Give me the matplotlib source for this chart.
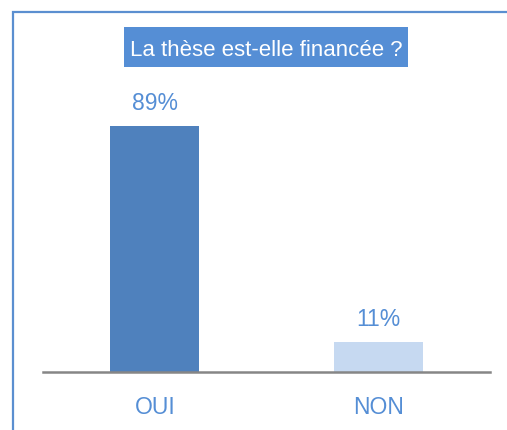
import matplotlib
matplotlib.use("Agg")
import matplotlib.pyplot as plt
from matplotlib.patches import Rectangle

categories = ["OUI", "NON"]
values = [89, 11]
labels = ["89%", "11%"]
title = "La thèse est-elle financée ?"

bar_colors = ["#4F81BD", "#C6D9F1"]
text_color = "#558ED5"
fam = ["Liberation Sans", "DejaVu Sans"]

W, H = 507, 430
fig = plt.figure(figsize=(W / 100, H / 100), dpi=100)
fig.patch.set_facecolor("white")

# outer frame
fig.patches.append(Rectangle((13 / W, -0.05), 1.2, (H - 12) / H + 0.05,
                             transform=fig.transFigure, fill=False,
                             edgecolor="#5B8FD0", linewidth=1.6))

# title box
fig.patches.append(Rectangle((124 / W, 1 - 67 / H), (408 - 124) / W, 40 / H,
                             transform=fig.transFigure, facecolor="#558ED5",
                             edgecolor="none"))
fig.text(266 / W, 1 - 56 / H, title, ha="center", va="baseline",
         fontsize=16, color="white", family=fam)

ax_left, ax_right = 43 / W, 490 / W
ax_bottom = (H - 372) / H
ax_height = 276.4 / H
ax = fig.add_axes([ax_left, ax_bottom, ax_right - ax_left, ax_height])
ax.set_facecolor("none")

x = list(range(len(categories)))
ax.bar(x, values, width=0.40, color=bar_colors, zorder=2)
ax.set_xlim(-0.5, 1.5)
ax.set_ylim(0, 100)

for xi, v, lab in zip(x, values, labels):
    ax.annotate(lab, (xi, v), xytext=(0, 11.5), textcoords="offset points",
                ha="center", va="baseline", fontsize=16.5, color=text_color,
                family=fam)

for s in ["top", "right", "left"]:
    ax.spines[s].set_visible(False)
ax.spines["bottom"].set_color("#868686")
ax.spines["bottom"].set_linewidth(1.8)
ax.set_yticks([])
ax.set_xticks(x)
ax.set_xticklabels(categories, fontsize=16.5, color=text_color, family=fam)
ax.tick_params(axis="x", length=0, pad=17)

fig.savefig("out.png", dpi=100, facecolor="white")
